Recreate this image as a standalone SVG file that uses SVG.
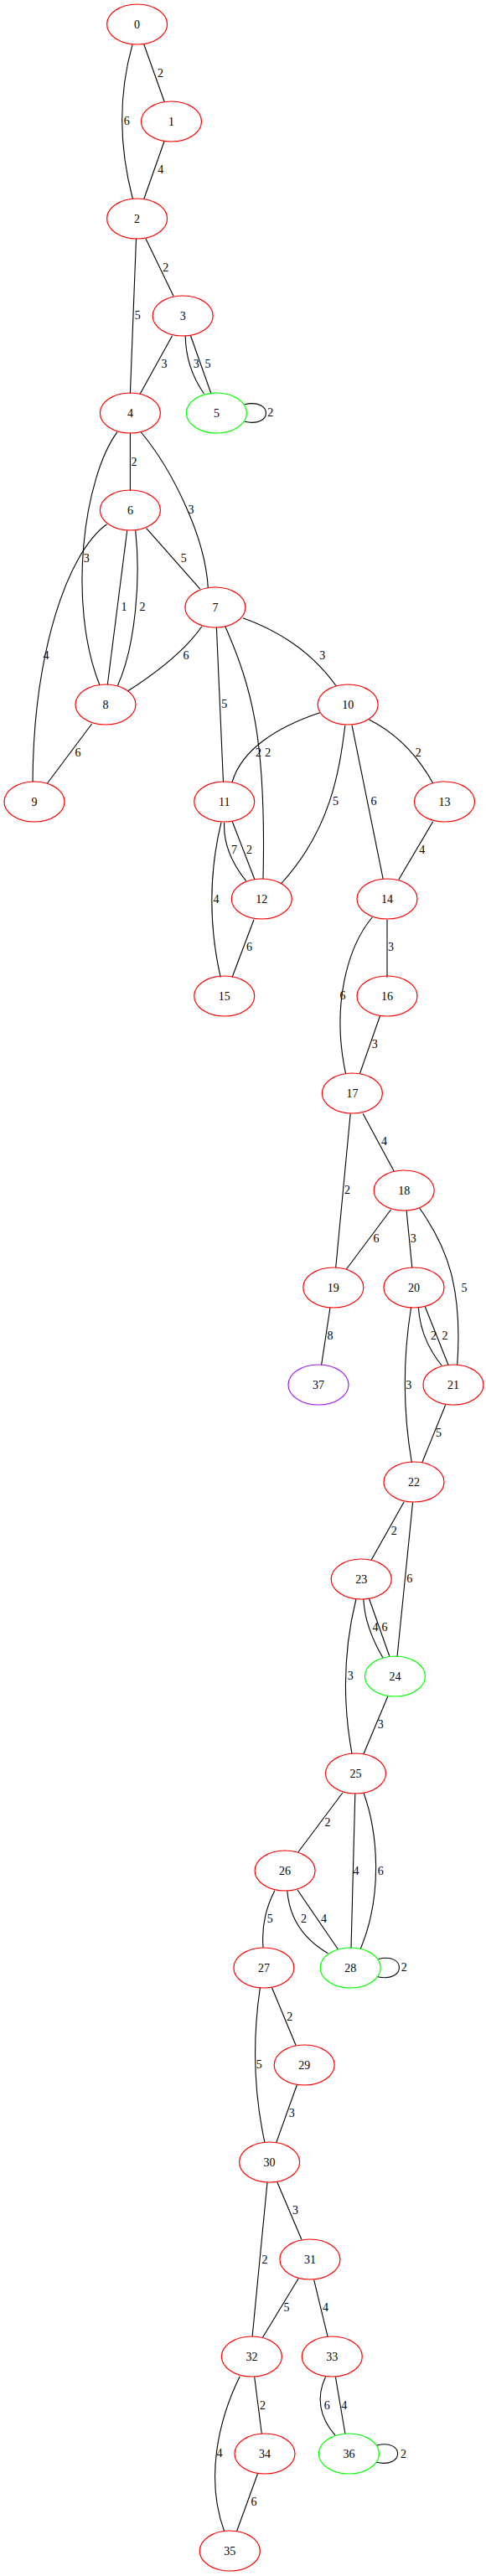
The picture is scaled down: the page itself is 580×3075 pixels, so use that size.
<svg xmlns="http://www.w3.org/2000/svg" width="580" height="3075" viewBox="0 0 580 3075">
<style>
text{font-family:"Liberation Serif","Times New Roman",serif;font-size:14px;text-anchor:middle;fill:#000}
ellipse{fill:none;stroke-width:1.2}
.r{stroke:#ff0000}.g{stroke:#00ff00}.p{stroke:#a020f0}
#edges path{fill:none;stroke:#000;stroke-width:1.1}
</style>
<rect width="580" height="3075" fill="#fff"/>
<g id="edges">
<path d="M171.7,52.7 L196.3,121.7"/><text x="191.4" y="92">2</text>
<path d="M158,53.3 Q133.2,141.3 158.4,237.3"/><text x="151.3" y="149">6</text>
<path d="M195.9,169 L171.7,237.7"/><text x="191.8" y="207">4</text>
<path d="M174,285 L207,353.3"/><text x="197.8" y="323.7">2</text>
<path d="M162.5,285 L155.4,470"/><text x="164.3" y="381">5</text>
<path d="M205.6,400.7 L167.3,470"/><text x="195.9" y="439">3</text>
<path d="M221.2,400.7 C221.5,420 226,445 243.5,470"/><text x="234.2" y="439">3</text>
<path d="M227.5,400.7 L252,470"/><text x="248" y="439">5</text>
<path d="M291.8,482.7 C326,475 326,511 291.8,503.3"/><text x="322.7" y="497">2</text>
<path d="M155.4,516.7 L155.4,585.7"/><text x="159.9" y="555.7">2</text>
<path d="M168.4,516 C205,560 245,640 248.3,701.7"/><text x="227.9" y="613.3">3</text>
<path d="M140,515.7 C100,570 80,720 119,818"/><text x="103.3" y="671">3</text>
<path d="M127.5,625.7 C80,660 40,780 39,933.3"/><text x="55" y="787.3">4</text>
<path d="M151.7,633.3 L128.3,817.3"/><text x="148" y="729.3">1</text>
<path d="M161.7,633.3 C168,690 162,770 140.5,818.3"/><text x="169.9" y="729.3">2</text>
<path d="M174.7,630.7 L239,703.3"/><text x="219.3" y="671">5</text>
<path d="M240.9,747.7 Q215,785 152.4,825"/><text x="222" y="787.3">6</text>
<path d="M258.4,749 L266.5,934"/><text x="267.7" y="845">5</text>
<path d="M268.8,747.7 C300,820 318,880 314,1049.3"/><text x="319.7" y="903.3">2</text>
<path d="M290,737.7 C330,752 370,775 401.5,819.3"/><text x="384.8" y="787.3">3</text>
<path d="M109.7,864 L56.5,935"/><text x="92.9" y="903.3">6</text>
<path d="M381.8,850.7 C330,868 288,895 277,934"/><text x="308.6" y="903.3">2</text>
<path d="M411.9,865.7 C405,920 395,990 335.3,1055"/><text x="400.4" y="961">5</text>
<path d="M420,865.7 L457.2,1049.3"/><text x="446" y="961">6</text>
<path d="M440.5,859 Q488,883 516.7,935"/><text x="499.3" y="903.3">2</text>
<path d="M267.7,981.7 Q265.7,1016.7 293.7,1051.7"/><text x="279.6" y="1019.3">7</text>
<path d="M277,980 L304,1050"/><text x="297.4" y="1019.3">2</text>
<path d="M264,981.7 Q242,1072.4 263.2,1166.7"/><text x="258" y="1077.7">4</text>
<path d="M303,1097.7 L277,1166.7"/><text x="297.4" y="1135">6</text>
<path d="M516.7,980.7 L475.8,1050"/><text x="503.7" y="1019.3">4</text>
<path d="M462,1097.7 L462,1166.7"/><text x="466.5" y="1135">3</text>
<path d="M444.2,1095 C415,1130 395,1200 412.6,1281.7"/><text x="408.9" y="1193.3">6</text>
<path d="M453.5,1212.7 L429.4,1281.7"/><text x="447.2" y="1251">3</text>
<path d="M433.1,1329.3 L470.3,1398.3"/><text x="458.4" y="1367.3">4</text>
<path d="M418.2,1329.3 L400.7,1513.3"/><text x="414.5" y="1425">2</text>
<path d="M466.5,1444 L413.4,1515"/><text x="449" y="1483.3">6</text>
<path d="M485.1,1445 L491.8,1513.3"/><text x="493.3" y="1483.3">3</text>
<path d="M500.7,1442.3 C535,1490 552,1540 545.7,1629.3"/><text x="553.9" y="1541.7">5</text>
<path d="M394,1561 L383.6,1629.3"/><text x="394" y="1599">8</text>
<path d="M499.3,1560 Q501.6,1598.4 527.1,1630"/><text x="517.5" y="1599">2</text>
<path d="M507.4,1560 L535.3,1630"/><text x="530.9" y="1599">2</text>
<path d="M490.7,1560 Q475.55,1653.6 491.4,1746"/><text x="487.7" y="1657.7">3</text>
<path d="M531.6,1677.3 L503.7,1746"/><text x="523.4" y="1715">5</text>
<path d="M482.2,1792.7 L443.1,1862.3"/><text x="470.3" y="1831.7">2</text>
<path d="M492.6,1793.3 L474,1977.7"/><text x="488.8" y="1889.3">6</text>
<path d="M433.8,1909 Q435.5,1942.45 457.2,1979.3"/><text x="448" y="1947.3">4</text>
<path d="M440.5,1908.3 L464.7,1976.7"/><text x="459.1" y="1947.3">6</text>
<path d="M424.9,1909 Q402.75,1998.85 420,2093.3"/><text x="418.2" y="2005">3</text>
<path d="M462.8,2025 L433.8,2094"/><text x="454.3" y="2063.3">3</text>
<path d="M408.9,2140 L355.8,2211"/><text x="391.1" y="2180">2</text>
<path d="M423.8,2141 L419,2325.7"/><text x="424.9" y="2237.7">4</text>
<path d="M434.2,2140.7 C450,2185 458,2260 430.1,2326.7"/><text x="454.3" y="2237.7">6</text>
<path d="M327.9,2256.7 Q311,2289.15 314.1,2325"/><text x="322.3" y="2295">5</text>
<path d="M342.8,2257.3 Q346.7,2305.5 391.4,2331.7"/><text x="362.5" y="2295">2</text>
<path d="M355,2256 L403.3,2326.7"/><text x="386.6" y="2295">4</text>
<path d="M451.7,2338.5 C485,2330 485,2368 449.8,2359.5"/><text x="482.2" y="2353.3">2</text>
<path d="M324.5,2372.7 L353.2,2441.7"/><text x="345.7" y="2411.7">2</text>
<path d="M310.4,2372.7 Q296.4,2468.2 316,2557.7"/><text x="309.3" y="2469">5</text>
<path d="M354.3,2489 L329.7,2557.7"/><text x="348.3" y="2527.3">3</text>
<path d="M330.9,2605 L359.9,2673.3"/><text x="352.4" y="2642.7">3</text>
<path d="M319,2605 L301.1,2789.3"/><text x="316" y="2701.7">2</text>
<path d="M356.1,2720 L313,2791"/><text x="342" y="2759">5</text>
<path d="M374.7,2721.7 L391.1,2789.3"/><text x="388.5" y="2759">4</text>
<path d="M303.7,2837.3 L312.3,2905"/><text x="313.4" y="2875.7">2</text>
<path d="M286.2,2836.7 C260,2890 245,2960 267.7,3021.7"/><text x="262.1" y="2933.3">4</text>
<path d="M307.4,2953.3 L282.5,3021.7"/><text x="303" y="2991">6</text>
<path d="M388.5,2837.3 Q371.35,2874.1 400.4,2907.7"/><text x="390.3" y="2875.7">6</text>
<path d="M400.4,2837.3 L411.9,2905"/><text x="410.8" y="2875.7">4</text>
<path d="M449.8,2919 C483,2911 483,2947 449.1,2939.3"/><text x="481.4" y="2934">2</text>
</g>
<g id="n0"><ellipse class="r" cx="163.6" cy="29" rx="36" ry="24"/><text x="163.6" y="34">0</text></g>
<g id="n1"><ellipse class="r" cx="204.5" cy="145" rx="36" ry="24"/><text x="204.5" y="150">1</text></g>
<g id="n2"><ellipse class="r" cx="163.6" cy="261" rx="36" ry="24"/><text x="163.6" y="266">2</text></g>
<g id="n3"><ellipse class="r" cx="218.2" cy="377" rx="36" ry="24"/><text x="218.2" y="382">3</text></g>
<g id="n4"><ellipse class="r" cx="155.4" cy="493" rx="36" ry="24"/><text x="155.4" y="498">4</text></g>
<g id="n5"><ellipse class="g" cx="258.4" cy="493" rx="36" ry="24"/><text x="258.4" y="498">5</text></g>
<g id="n6"><ellipse class="r" cx="155.4" cy="609" rx="36" ry="24"/><text x="155.4" y="614">6</text></g>
<g id="n7"><ellipse class="r" cx="256.9" cy="725" rx="36" ry="24"/><text x="256.9" y="730">7</text></g>
<g id="n8"><ellipse class="r" cx="126" cy="841" rx="36" ry="24"/><text x="126" y="846">8</text></g>
<g id="n10"><ellipse class="r" cx="415.2" cy="841" rx="36" ry="24"/><text x="415.2" y="846">10</text></g>
<g id="n9"><ellipse class="r" cx="41" cy="957" rx="36" ry="24"/><text x="41" y="962">9</text></g>
<g id="n11"><ellipse class="r" cx="267.7" cy="957" rx="36" ry="24"/><text x="267.7" y="962">11</text></g>
<g id="n13"><ellipse class="r" cx="530.5" cy="957" rx="36" ry="24"/><text x="530.5" y="962">13</text></g>
<g id="n12"><ellipse class="r" cx="312.3" cy="1073" rx="36" ry="24"/><text x="312.3" y="1078">12</text></g>
<g id="n14"><ellipse class="r" cx="462" cy="1073" rx="36" ry="24"/><text x="462" y="1078">14</text></g>
<g id="n15"><ellipse class="r" cx="267.7" cy="1189" rx="36" ry="24"/><text x="267.7" y="1194">15</text></g>
<g id="n16"><ellipse class="r" cx="462" cy="1189" rx="36" ry="24"/><text x="462" y="1194">16</text></g>
<g id="n17"><ellipse class="r" cx="420.4" cy="1305" rx="36" ry="24"/><text x="420.4" y="1310">17</text></g>
<g id="n18"><ellipse class="r" cx="482.2" cy="1421" rx="36" ry="24"/><text x="482.2" y="1426">18</text></g>
<g id="n19"><ellipse class="r" cx="397.8" cy="1537" rx="36" ry="24"/><text x="397.8" y="1542">19</text></g>
<g id="n20"><ellipse class="r" cx="494" cy="1537" rx="36" ry="24"/><text x="494" y="1542">20</text></g>
<g id="n37"><ellipse class="p" cx="380" cy="1653" rx="36" ry="24"/><text x="380" y="1658">37</text></g>
<g id="n21"><ellipse class="r" cx="541" cy="1653" rx="36" ry="24"/><text x="541" y="1658">21</text></g>
<g id="n22"><ellipse class="r" cx="494" cy="1769" rx="36" ry="24"/><text x="494" y="1774">22</text></g>
<g id="n23"><ellipse class="r" cx="431.2" cy="1885" rx="36" ry="24"/><text x="431.2" y="1890">23</text></g>
<g id="n24"><ellipse class="g" cx="471.4" cy="2001" rx="36" ry="24"/><text x="471.4" y="2006">24</text></g>
<g id="n25"><ellipse class="r" cx="424.5" cy="2117" rx="36" ry="24"/><text x="424.5" y="2122">25</text></g>
<g id="n26"><ellipse class="r" cx="340.1" cy="2233" rx="36" ry="24"/><text x="340.1" y="2238">26</text></g>
<g id="n27"><ellipse class="r" cx="314.9" cy="2349" rx="36" ry="24"/><text x="314.9" y="2354">27</text></g>
<g id="n28"><ellipse class="g" cx="418.2" cy="2349" rx="36" ry="24"/><text x="418.2" y="2354">28</text></g>
<g id="n29"><ellipse class="r" cx="363.2" cy="2465" rx="36" ry="24"/><text x="363.2" y="2470">29</text></g>
<g id="n30"><ellipse class="r" cx="321.6" cy="2581" rx="36" ry="24"/><text x="321.6" y="2586">30</text></g>
<g id="n31"><ellipse class="r" cx="369.9" cy="2697" rx="36" ry="24"/><text x="369.9" y="2702">31</text></g>
<g id="n32"><ellipse class="r" cx="300.4" cy="2813" rx="36" ry="24"/><text x="300.4" y="2818">32</text></g>
<g id="n33"><ellipse class="r" cx="396.3" cy="2813" rx="36" ry="24"/><text x="396.3" y="2818">33</text></g>
<g id="n34"><ellipse class="r" cx="316" cy="2929" rx="36" ry="24"/><text x="316" y="2934">34</text></g>
<g id="n36"><ellipse class="g" cx="416.4" cy="2929" rx="36" ry="24"/><text x="416.4" y="2934">36</text></g>
<g id="n35"><ellipse class="r" cx="274.3" cy="3045" rx="36" ry="24"/><text x="274.3" y="3050">35</text></g>
</svg>
